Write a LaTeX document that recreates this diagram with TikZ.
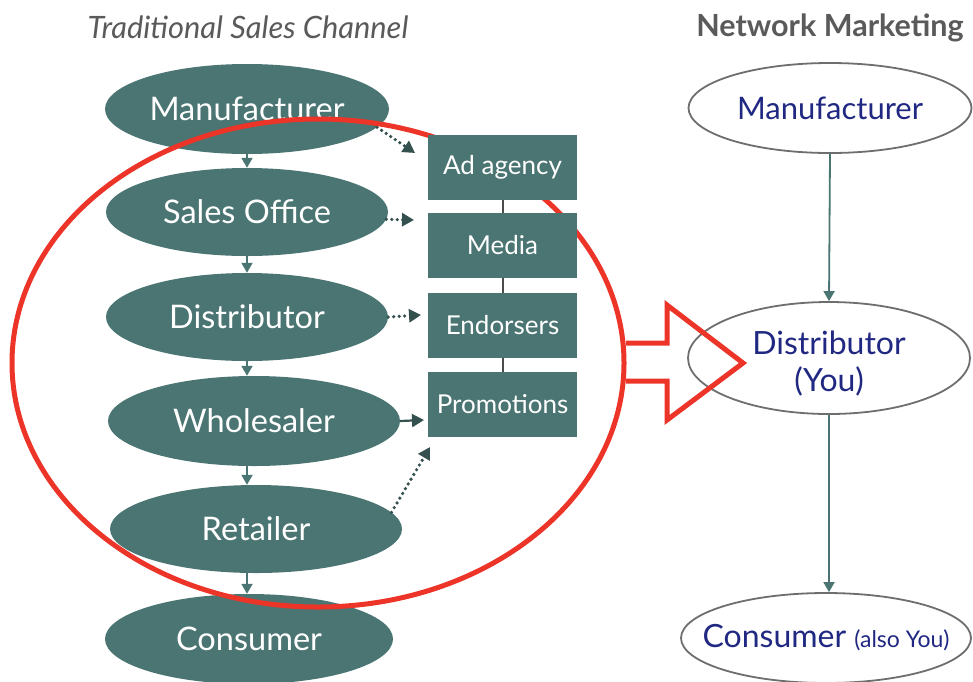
\documentclass[tikz,border=0pt]{standalone}
\usepackage{fontspec}
\setmainfont{Lato}
\usetikzlibrary{shapes.geometric,arrows.meta}
\definecolor{teal1}{RGB}{74,117,114}
\definecolor{teal2}{RGB}{52,80,79}
\definecolor{navy1}{RGB}{32,40,130}
\definecolor{gray1}{RGB}{110,110,110}
\definecolor{title1}{RGB}{90,90,90}
\definecolor{red1}{RGB}{236,52,40}
\tikzset{
  lell/.style={ellipse, fill=teal1, text=white, inner sep=0pt, font=\fontsize{32.5}{36}\selectfont},
  rell/.style={ellipse, draw=gray1, line width=1.8pt, fill=white, text=navy1, inner sep=0pt, font=\fontsize{31}{36}\selectfont},
  boxn/.style={rectangle, fill=teal1, text=white, minimum width=149pt, minimum height=65pt, inner sep=0pt, font=\fontsize{26}{30}\selectfont},
  varr/.style={-{Triangle[length=10pt,width=11pt]}, line width=1.8pt, draw=teal1},
  darr/.style={-{Triangle[length=12pt,width=13pt]}, line width=3.6pt, draw=teal2, line cap=round, dash pattern=on 0pt off 5.5pt},
  sarr/.style={-{Triangle[length=12pt,width=13pt]}, line width=2.2pt, draw=teal2},
  link/.style={line width=2pt, draw=black!70}
}
\begin{document}
\begin{tikzpicture}[x=1pt,y=-1pt]
\useasboundingbox (0,0) rectangle (973,681);
% titles
\node[text=title1, font=\fontsize{30.8}{34}\selectfont\itshape] (t1) at (248,27) {Traditional Sales Channel};
\node[text=title1, font=\fontsize{30.5}{34}\selectfont\bfseries] (t2) at (830,28) {Network Marketing};
% left ellipses
\node[lell, minimum width=284pt, minimum height=90pt] (lm) at (247,109) {Manufacturer};
\node[lell, minimum width=282pt, minimum height=88pt] (ls) at (247,212) {Sales Office};
\node[lell, minimum width=282pt, minimum height=88pt] (ld) at (247,317) {Distributor};
\node[lell, minimum width=292pt, minimum height=90pt] (lw) at (254,421) {Wholesaler};
\node[lell, minimum width=292pt, minimum height=88pt] (lr) at (256,529) {Retailer};
\node[lell, minimum width=288pt, minimum height=90pt] (lc) at (249,639) {Consumer};
\draw[varr] (lm.south) -- (ls.north);
\draw[varr] (ls.south) -- (ld.north);
\draw[varr] (ld.south) -- (lw.north -| ld.south);
\draw[varr] (lw.south -| ld.south) -- (lr.north -| ld.south);
\draw[varr] (lr.south -| ld.south) -- (lc.north -| ld.south);
% arrows to boxes
\coordinate (a1) at (415,153);
\coordinate (a2) at (414,220);
\coordinate (a3) at (421,315);
\coordinate (a4) at (424,420);
\coordinate (a5) at (430,447);
\draw[darr] (lm.-8) -- (a1);
\draw[darr] (ls.-3) -- (a2);
\draw[darr] (ld.east) -- (a3);
\draw[sarr] (lw.east) -- (a4);
\draw[darr] (lr.7) -- (a5);
% red ring (behind the boxes)
\node[ellipse, draw=red1, line width=5pt, minimum width=612pt, minimum height=488pt, inner sep=0pt] (ring) at (318,363) {};
% boxes
\node[boxn] (ba) at (502.5,167.5) {Ad agency};
\node[boxn] (bm) at (502.5,245.5) {Media};
\node[boxn] (be) at (502.5,325.5) {Endorsers};
\node[boxn] (bp) at (502.5,404.5) {Promotions};
\draw[link] (ba.south) -- (bm.north);
\draw[link] (bm.south) -- (be.north);
\draw[link] (be.south) -- (bp.north);
% right ellipses
\node[rell, minimum width=283pt, minimum height=90pt] (rm) at (830,108) {Manufacturer};
\node[rell, minimum width=282pt, minimum height=112pt] (rd) at (829,358) {};
\node[text=navy1, align=center, font=\fontsize{32}{37}\selectfont] (rdt) at (829,364) {Distributor\\(You)};
\node[rell, minimum width=290pt, minimum height=90pt] (rc) at (826,638) {};
\node[text=navy1, inner sep=0pt] (rct) at (826,638) {\fontsize{32}{36}\selectfont Consumer \fontsize{23}{26}\selectfont(also You)};
\draw[varr] (rm.south) -- (rd.north);
\draw[varr] (rd.south) -- (rc.north -| rd.south);
% red hollow arrow
\draw[red1, line width=5pt, line join=miter] (626,343) -- (667,343) -- (667,305) -- (743,363) -- (667,420) -- (667,381) -- (626,381);
\end{tikzpicture}
\end{document}
